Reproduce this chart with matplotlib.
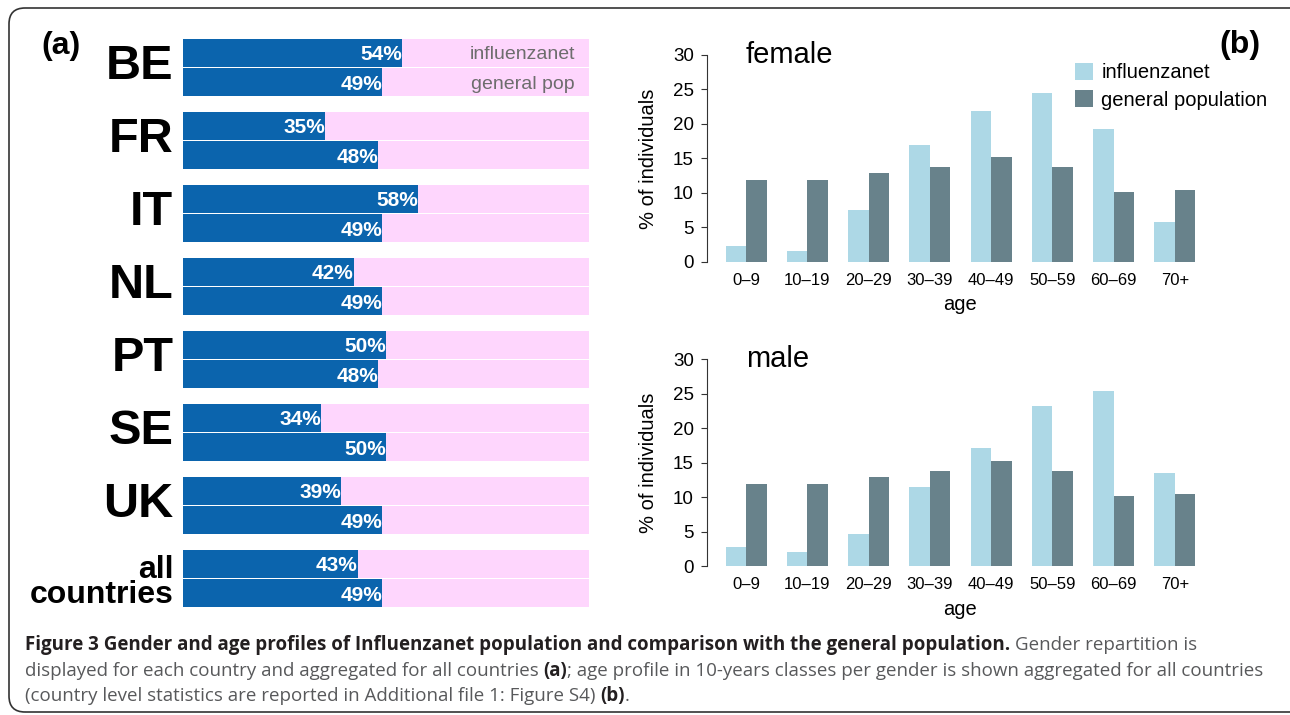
import numpy as np
import matplotlib.pyplot as plt
from matplotlib.patches import FancyBboxPatch
from matplotlib.transforms import IdentityTransform

plt.rcParams['font.family'] = ['Liberation Sans', 'DejaVu Sans']

# panel (a): share of women (%)
countries = ['BE', 'FR', 'IT', 'NL', 'PT', 'SE', 'UK', 'all\ncountries']
women_flu = [54, 35, 58, 42, 50, 34, 39, 43]
women_pop = [49, 48, 49, 49, 48, 50, 49, 49]

# panel (b): age profile (% of individuals)
age_groups = ['0–9', '10–19', '20–29', '30–39', '40–49', '50–59', '60–69', '70+']
female_flu = [2.3, 1.6, 7.5, 16.9, 21.9, 24.5, 19.3, 5.8]
female_pop = [11.9, 11.9, 12.9, 13.8, 15.2, 13.8, 10.1, 10.4]
male_flu = [2.8, 2.0, 4.6, 11.5, 17.1, 23.2, 25.4, 13.5]
male_pop = [11.9, 11.9, 12.9, 13.8, 15.2, 13.8, 10.2, 10.5]

blue = '#0b64ad'
pink = '#fed6fd'
light = '#add8e6'
dark = '#68828b'

W, H = 1290, 715
fig = plt.figure(figsize=(W / 100, H / 100), dpi=100)

# outer rounded frame
frame = FancyBboxPatch((9, 3), 1300, 704, boxstyle='round,pad=0,rounding_size=16',
                       transform=IdentityTransform(), fc='none', ec='#333333', lw=1.2)
fig.patches.append(frame)


def px_axes(left, top, right, bottom):
    return fig.add_axes([left / W, 1 - bottom / H, (right - left) / W, (bottom - top) / H])


# ---- panel (a)
ax = px_axes(183, 38, 589, 608)
period = 73 / 29.5
for i, c in enumerate(countries):
    y_top = i * period + 0.5
    y_bot = i * period + 1.5
    for y, v in ((y_top, women_flu[i]), (y_bot, women_pop[i])):
        ax.barh(y, 100, height=0.965, color=pink)
        ax.barh(y, v, height=0.965, color=blue)
        ax.text(v, y, '%d%%' % v, color='white', fontweight='bold', fontsize=15,
                ha='right', va='center_baseline')
    if '\n' in c:
        ax.annotate(c, xy=(0, i * period + 1.0), xycoords=('axes fraction', 'data'),
                    xytext=(-7, -3), textcoords='offset points', ha='right', va='center',
                    fontsize=23, fontweight='bold', linespacing=0.8, multialignment='right')
    else:
        ax.annotate(c, xy=(0, i * period + 1.0), xycoords=('axes fraction', 'data'),
                    xytext=(-7, 1), textcoords='offset points', ha='right', va='center',
                    fontsize=35, fontweight='bold')
ax.text(96.5, 0.5, 'influenzanet', color='#6d6d6d', fontsize=14, ha='right', va='center_baseline')
ax.text(96.5, 1.5, 'general pop', color='#6d6d6d', fontsize=14, ha='right', va='center_baseline')
ax.set_xlim(0, 100)
ax.set_ylim(7 * period + 2, 0)
ax.axis('off')

fig.text(61 / W, 1 - 46 / H, '(a)', fontsize=23, fontweight='bold', ha='center', va='center')
fig.text(1240 / W, 1 - 45 / H, '(b)', fontsize=23, fontweight='bold', ha='center', va='center')

# ---- panel (b)
x = np.arange(len(age_groups)) * 3
for top, flu, pop, title in ((46.7, female_flu, female_pop, 'female'),
                             (351.0, male_flu, male_pop, 'male')):
    bottom = top + 223.3
    a = px_axes(707, top, 1214, bottom)
    b1 = a.bar(x + 1, flu, width=1, align='edge', color=light, label='influenzanet')
    b2 = a.bar(x + 2, pop, width=1, align='edge', color=dark, label='general population')
    a.set_xlim(0.08, 24.92)
    a.set_ylim(-1.2, 31.2)
    for s in ('top', 'right', 'bottom'):
        a.spines[s].set_visible(False)
    a.spines['left'].set_bounds(0, 30)
    a.spines['left'].set_linewidth(0.8)
    a.spines['left'].set_color('#333333')
    a.set_yticks(range(0, 31, 5))
    a.tick_params(axis='y', length=4.5, width=0.8, color='#333333', labelsize=13.5, pad=5)
    a.set_xticks(x + 2)
    a.set_xticklabels(age_groups)
    a.tick_params(axis='x', length=0, labelsize=12, pad=2)
    a.text(-59 / 507, 0.5, '% of individuals', rotation=90, transform=a.transAxes,
           ha='center', va='center', fontsize=14.5)
    a.text(0.5, -35 / 223.3, 'age', transform=a.transAxes, ha='center', va='center', fontsize=14.5)
    a.text(39 / 507, (bottom - top - (55 - 46.7)) / 223.3, title, transform=a.transAxes,
           ha='left', va='center', fontsize=21)
    if title == 'female':
        fig.legend(handles=[b1, b2], loc='upper left', bbox_to_anchor=(1075 / W, 1 - 63 / H),
                   frameon=False, fontsize=14.5, handlelength=0.9, handleheight=0.9,
                   handletextpad=0.4, labelspacing=0.4, borderpad=0, borderaxespad=0)

# ---- caption
r = fig.canvas.get_renderer()
cap_lines = [
    [('Figure 3 Gender and age profiles of Influenzanet population and comparison with the general population.', 'bold'),
     ('Gender repartition is', 'normal')],
    [('displayed for each country and aggregated for all countries', 'normal'), ('(a)', 'bold'),
     ('; age profile in 10-years classes per gender is shown aggregated for all countries', 'normal')],
    [('(country level statistics are reported in Additional file 1: Figure S4)', 'normal'),
     ('(b)', 'bold'), ('.', 'normal')],
]
cap_font = ['Open Sans', 'DejaVu Sans']
probe = fig.text(0, 0, ' '.join(s for s, _ in cap_lines[1]), family=cap_font, fontsize=10)
cap_fs = 10 * 1245 / probe.get_window_extent(r).width
probe.remove()
p1 = fig.text(0, 0, 'xx', family=cap_font, fontsize=cap_fs)
p2 = fig.text(0, 0, 'x x', family=cap_font, fontsize=cap_fs)
space = p2.get_window_extent(r).width - p1.get_window_extent(r).width
p1.remove()
p2.remove()

baselines = [650, 676, 701]
for line, yb in zip(cap_lines, baselines):
    xp = 25
    for k, (s, w) in enumerate(line):
        if k > 0 and not s.startswith(';') and s != '.':
            xp += space
        t = fig.text(xp / W, 1 - yb / H, s, family=cap_font, fontsize=cap_fs, fontweight=w,
                     color='#231f20' if w == 'bold' else '#58595b', va='baseline')
        xp += t.get_window_extent(r).width

fig.savefig('out.png', dpi=100)
